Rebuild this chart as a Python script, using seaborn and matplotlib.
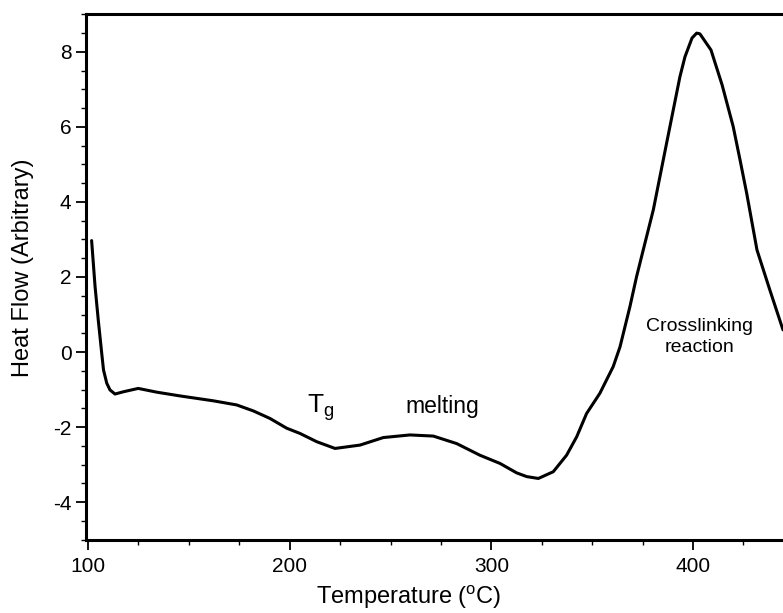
import matplotlib
matplotlib.use("Agg")
import matplotlib.pyplot as plt
import seaborn as sns
import pandas as pd
from matplotlib.ticker import MultipleLocator

# Data
temperature = [101.8, 103.5, 105.1, 106.8, 107.7, 109.3, 110.9, 113.4, 117.5, 124.9,
               134.1, 145.6, 162.1, 173.7, 182.0, 190.2, 198.5, 205.1, 213.4, 222.5,
               234.9, 246.4, 259.6, 271.2, 282.8, 294.3, 304.3, 312.5, 317.5, 323.3,
               330.7, 337.3, 342.3, 347.2, 353.8, 360.4, 363.8, 368.7, 372.0, 375.3,
               380.3, 386.9, 393.5, 396.0, 399.5, 401.8, 403.4, 408.9, 414.4, 419.9,
               423.3, 426.6, 431.7, 438.1, 444.6]
heat_flow = [2.97, 1.75, 0.85, -0.03, -0.48, -0.83, -1.01, -1.12, -1.06, -0.97,
             -1.07, -1.17, -1.30, -1.41, -1.57, -1.77, -2.03, -2.17, -2.39, -2.57,
             -2.48, -2.28, -2.21, -2.24, -2.44, -2.75, -2.97, -3.22, -3.32, -3.37,
             -3.19, -2.75, -2.26, -1.64, -1.10, -0.39, 0.14, 1.21, 2.01, 2.72,
             3.79, 5.57, 7.34, 7.87, 8.37, 8.50, 8.48, 8.05, 7.12, 6.01,
             5.12, 4.23, 2.72, 1.65, 0.59]
x_ticks = [100, 200, 300, 400]
y_ticks = [-4, -2, 0, 2, 4, 6, 8]

df = pd.DataFrame({"Temperature": temperature, "Heat": heat_flow})

sns.set_style("ticks")
plt.rcParams["font.family"] = ["Liberation Sans", "DejaVu Sans"]
plt.rcParams["mathtext.fontset"] = "custom"
plt.rcParams["mathtext.rm"] = "Liberation Sans"
plt.rcParams["mathtext.it"] = "Liberation Sans"

fig = plt.figure(figsize=(7.83, 6.13), dpi=100)
ax = fig.add_axes([0.1098, 0.1191, 1.0 - 0.1098, 0.9772 - 0.1191])

sns.lineplot(data=df, x="Temperature", y="Heat", ax=ax, color="black",
             linewidth=2.2, sort=False)

ax.set_xlim(99.0, 444.6)
ax.set_ylim(-5.01, 9.01)
ax.set_xticks(x_ticks)
ax.set_xticklabels([str(v) for v in x_ticks])
ax.set_yticks(y_ticks)
ax.set_yticklabels([str(v) for v in y_ticks])
ax.xaxis.set_minor_locator(MultipleLocator(25))
ax.yaxis.set_minor_locator(MultipleLocator(0.5))
ax.tick_params(axis="both", which="major", direction="out", length=7, width=1.3,
               labelsize=15, color="black", labelcolor="black")
ax.tick_params(axis="x", which="major", pad=5)
ax.tick_params(axis="both", which="minor", direction="out", length=3.5, width=1.0,
               color="black")

ax.spines["right"].set_visible(False)
for s in ["left", "bottom", "top"]:
    ax.spines[s].set_linewidth(2.2)
    ax.spines[s].set_color("black")

ax.set_xlabel("Temperature ($^{\\mathrm{o}}$C)", fontsize=17, color="black")
ax.xaxis.set_label_coords(0.463, -0.1217)
ax.xaxis.label.set_verticalalignment("baseline")

ax.set_ylabel("Heat Flow (Arbitrary)", fontsize=17, color="black")
ax.yaxis.set_label_coords(-0.0904, 0.518)
ax.yaxis.label.set_verticalalignment("center")

ax.text(215.5, -1.62, "T$_{\\mathrm{g}}$", fontsize=19, ha="center", va="baseline", color="black")
ax.text(275.8, -1.62, "melting", fontsize=16.5, ha="center", va="baseline", color="black")
ax.text(403.4, 0.0, "Crosslinking\nreaction", fontsize=14, ha="center", va="baseline",
        color="black", linespacing=1.3)

fig.savefig("out.png", dpi=100)
